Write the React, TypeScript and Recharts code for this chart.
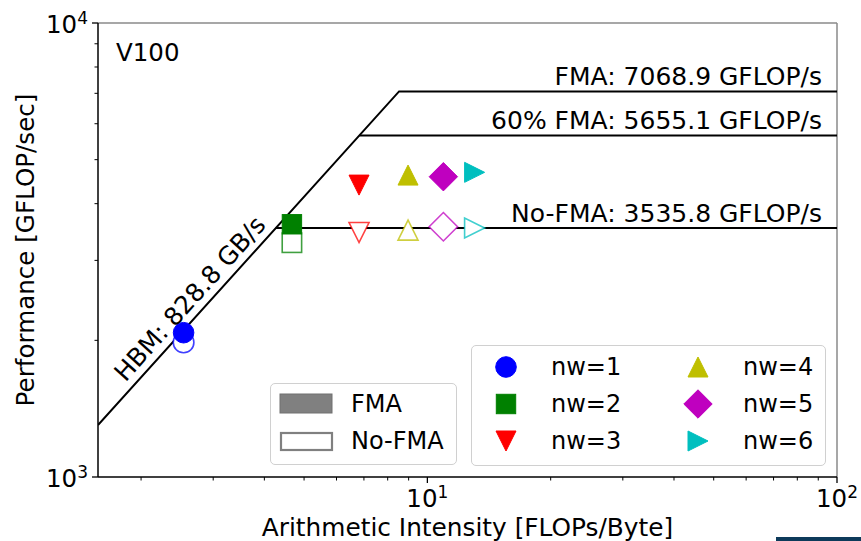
import React from 'react';
import {
  ScatterChart,
  Scatter,
  XAxis,
  YAxis,
  ReferenceLine,
  ReferenceDot,
  Label,
} from 'recharts';

const FONT = '"DejaVu Sans", sans-serif';

// axis ranges
const X_MIN = 1.57;
const X_MAX = 100;
const Y_MIN = 1000;
const Y_MAX = 10000;

// machine ceilings (V100)
const HBM_BW = 828.8;
const PEAK_FMA = 7068.9;
const PEAK_60 = 5655.1;
const PEAK_NOFMA = 3535.8;

const X_TICKS = [2, 3, 4, 5, 6, 7, 8, 9, 10, 20, 30, 40, 50, 60, 70, 80, 90, 100];
const Y_TICKS = [1000, 2000, 3000, 4000, 5000, 6000, 7000, 8000, 9000, 10000];
const MAJOR_EXP: Record<number, string> = { 10: '1', 100: '2', 1000: '3', 10000: '4' };

// measured kernels, one per warp count
const nwLabels = ['nw=1', 'nw=2', 'nw=3', 'nw=4', 'nw=5', 'nw=6'];
const nwAI = [2.54, 4.67, 6.81, 8.97, 10.94, 13.04];
const fmaPerf = [2079, 3603, 4395, 4624, 4586, 4689];
const noFmaPerf = [1979, 3281, 3456, 3498, 3558, 3535];
const nwColors = ['#0000ff', '#008000', '#ff0000', '#bfbf00', '#bf00bf', '#00bfbf'];
const nwShapes = ['circle', 'square', 'down', 'up', 'diamond', 'right'];

type Pt = { x: number; y: number };

const roofFMA: Pt[] = [
  { x: X_MIN, y: X_MIN * HBM_BW },
  { x: PEAK_FMA / HBM_BW, y: PEAK_FMA },
  { x: X_MAX, y: PEAK_FMA },
];
const roof60: Pt[] = [
  { x: PEAK_60 / HBM_BW, y: PEAK_60 },
  { x: X_MAX, y: PEAK_60 },
];
const roofNoFMA: Pt[] = [
  { x: PEAK_NOFMA / HBM_BW, y: PEAK_NOFMA },
  { x: X_MAX, y: PEAK_NOFMA },
];

function marker(kind: string, cx: number, cy: number, color: string, filled: boolean) {
  const style = {
    fill: filled ? color : '#fff',
    stroke: color,
    strokeWidth: filled ? 1 : 1.6,
    strokeOpacity: filled ? 1 : 0.75,
  };
  const s = 10;
  switch (kind) {
    case 'circle':
      return <circle cx={cx} cy={cy} r={10.3} {...style} />;
    case 'square':
      return <rect x={cx - 9.7} y={cy - 9.7} width={19.4} height={19.4} {...style} />;
    case 'up':
      return <polygon points={`${cx},${cy - s} ${cx - s},${cy + s} ${cx + s},${cy + s}`} {...style} />;
    case 'down':
      return <polygon points={`${cx},${cy + s} ${cx - s},${cy - s} ${cx + s},${cy - s}`} {...style} />;
    case 'right':
      return <polygon points={`${cx + s},${cy} ${cx - s},${cy - s} ${cx - s},${cy + s}`} {...style} />;
    case 'diamond':
      return (
        <polygon
          points={`${cx},${cy - 14.2} ${cx + 14.2},${cy} ${cx},${cy + 14.2} ${cx - 14.2},${cy}`}
          {...style}
        />
      );
    default:
      return <g />;
  }
}

const Empty = () => <g />;

const XTick = (props: any) => {
  const { x, y, payload } = props;
  const exp = MAJOR_EXP[payload.value];
  return (
    <g>
      <line x1={x} x2={x} y1={y} y2={y + (exp ? 6 : 3.5)} stroke="#000" strokeWidth={exp ? 1.3 : 1} />
      {exp && (
        <text x={x} y={y + 30} textAnchor="middle" fontSize={24.5} fontFamily={FONT} fill="#000">
          10<tspan dy={-9} fontSize={17}>{exp}</tspan>
        </text>
      )}
    </g>
  );
};

const YTick = (props: any) => {
  const { x, y, payload } = props;
  const exp = MAJOR_EXP[payload.value];
  return (
    <g>
      <line x1={x} x2={x - (exp ? 6 : 3.5)} y1={y} y2={y} stroke="#000" strokeWidth={exp ? 1.3 : 1} />
      {exp && (
        <text x={x - 10} y={y + 10} textAnchor="end" fontSize={24.5} fontFamily={FONT} fill="#000">
          10<tspan dy={-9} fontSize={17}>{exp}</tspan>
        </text>
      )}
    </g>
  );
};

const roofLabel = (text: string) => (props: any) => {
  const { x, y } = props.viewBox;
  return (
    <text x={x - 15} y={y - 6} textAnchor="end" fontSize={25} fontFamily={FONT} fill="#000">
      {text}
    </text>
  );
};

const hbmLabel = (props: any) => {
  const { x, y } = props.viewBox;
  return (
    <text
      transform={`translate(${x},${y}) rotate(-48)`}
      x={0}
      y={-8}
      textAnchor="middle"
      fontSize={25}
      fontFamily={FONT}
      fill="#000"
    >
      {`HBM: ${HBM_BW} GB/s`}
    </text>
  );
};

const deviceLabel = (props: any) => {
  const { x, y } = props.viewBox;
  return (
    <text x={x + 18} y={y + 38} fontSize={24.5} fontFamily={FONT} fill="#000">
      V100
    </text>
  );
};

const legendBox: React.CSSProperties = {
  position: 'absolute',
  background: 'rgba(255,255,255,0.8)',
  border: '1px solid #d0d0d0',
  borderRadius: 5,
  boxSizing: 'border-box',
};

function FmaLegend() {
  return (
    <div style={{ ...legendBox, left: 270, top: 383, width: 187, height: 82 }}>
      <svg width={187} height={82} style={{ position: 'absolute', left: -1, top: -1 }}>
        <rect x={10} y={11} width={52} height={19} fill="#808080" stroke="#707070" strokeWidth={1} />
        <text x={81} y={21} dominantBaseline="central" fontSize={24} fontFamily={FONT} fill="#000">
          FMA
        </text>
        <rect x={11} y={50} width={51} height={17} fill="#fff" stroke="#808080" strokeWidth={2.2} />
        <text x={81} y={58} dominantBaseline="central" fontSize={24} fontFamily={FONT} fill="#000">
          No-FMA
        </text>
      </svg>
    </div>
  );
}

function NwLegend() {
  return (
    <div style={{ ...legendBox, left: 471, top: 345, width: 355, height: 121 }}>
      <svg width={355} height={121} style={{ position: 'absolute', left: -1, top: -1 }}>
        {nwLabels.map((label, i) => {
          const col = Math.floor(i / 3);
          const row = i % 3;
          const mx = col === 0 ? 35 : 227;
          const tx = col === 0 ? 80 : 272;
          const cy = 22 + row * 37;
          return (
            <g key={label}>
              {marker(nwShapes[i], mx, cy, nwColors[i], true)}
              <text x={tx} y={cy} dominantBaseline="central" fontSize={24} fontFamily={FONT} fill="#000">
                {label}
              </text>
            </g>
          );
        })}
      </svg>
    </div>
  );
}

export default function App() {
  return (
    <div style={{ position: 'fixed', left: 0, top: 0, width: 861, height: 541, background: '#fff' }}>
      <ScatterChart width={861} height={541} margin={{ top: 23, right: 24, bottom: 0, left: 0 }}>
        <XAxis
          dataKey="x"
          type="number"
          scale="log"
          domain={[X_MIN, X_MAX]}
          allowDataOverflow
          ticks={X_TICKS}
          interval={0}
          height={64}
          tickSize={0}
          tickMargin={0}
          tickLine={false}
          tick={<XTick />}
          axisLine={{ stroke: '#000', strokeWidth: 1.5 }}
        >
          <Label
            content={(p: any) => (
              <text
                x={p.viewBox.x + p.viewBox.width / 2}
                y={p.viewBox.y + 59}
                textAnchor="middle"
                fontSize={24.8}
                fontFamily={FONT}
                fill="#000"
              >
                Arithmetic Intensity [FLOPs/Byte]
              </text>
            )}
          />
        </XAxis>
        <YAxis
          dataKey="y"
          type="number"
          scale="log"
          domain={[Y_MIN, Y_MAX]}
          allowDataOverflow
          ticks={Y_TICKS}
          interval={0}
          width={98}
          tickSize={0}
          tickMargin={0}
          tickLine={false}
          tick={<YTick />}
          axisLine={{ stroke: '#000', strokeWidth: 1.5 }}
        >
          <Label
            content={(p: any) => {
              const cx = p.viewBox.x + 25;
              const cy = p.viewBox.y + p.viewBox.height / 2;
              return (
                <text
                  transform={`translate(${cx},${cy}) rotate(-90)`}
                  textAnchor="middle"
                  dominantBaseline="central"
                  fontSize={24.6}
                  fontFamily={FONT}
                  fill="#000"
                >
                  Performance [GFLOP/sec]
                </text>
              );
            }}
          />
        </YAxis>

        <ReferenceLine y={Y_MAX} stroke="#8a8a8a" strokeWidth={1.5} />
        <ReferenceLine x={X_MAX} stroke="#8a8a8a" strokeWidth={1.5} />

        <Scatter data={roofFMA} line={{ stroke: '#000', strokeWidth: 2, fill: 'none' }} lineType="joint" shape={Empty} isAnimationActive={false} />
        <Scatter data={roof60} line={{ stroke: '#000', strokeWidth: 2, fill: 'none' }} lineType="joint" shape={Empty} isAnimationActive={false} />
        <Scatter data={roofNoFMA} line={{ stroke: '#000', strokeWidth: 2, fill: 'none' }} lineType="joint" shape={Empty} isAnimationActive={false} />

        {nwLabels.map((label, i) => (
          <Scatter
            key={`nofma-${label}`}
            data={[{ x: nwAI[i], y: noFmaPerf[i] }]}
            shape={(p: any) => marker(nwShapes[i], p.cx, p.cy, nwColors[i], false)}
            isAnimationActive={false}
          />
        ))}
        {nwLabels.map((label, i) => (
          <Scatter
            key={`fma-${label}`}
            data={[{ x: nwAI[i], y: fmaPerf[i] }]}
            shape={(p: any) => marker(nwShapes[i], p.cx, p.cy, nwColors[i], true)}
            isAnimationActive={false}
          />
        ))}

        <ReferenceDot x={X_MAX} y={PEAK_FMA} r={0} ifOverflow="visible" label={roofLabel(`FMA: ${PEAK_FMA} GFLOP/s`)} />
        <ReferenceDot x={X_MAX} y={PEAK_60} r={0} ifOverflow="visible" label={roofLabel(`60% FMA: ${PEAK_60} GFLOP/s`)} />
        <ReferenceDot x={X_MAX} y={PEAK_NOFMA} r={0} ifOverflow="visible" label={roofLabel(`No-FMA: ${PEAK_NOFMA} GFLOP/s`)} />
        <ReferenceDot x={2.82} y={2.82 * HBM_BW} r={0} ifOverflow="visible" label={hbmLabel} />
        <ReferenceDot x={X_MIN} y={Y_MAX} r={0} ifOverflow="visible" label={deviceLabel} />
      </ScatterChart>
      <FmaLegend />
      <NwLegend />
      <div style={{ position: 'absolute', left: 776, top: 537, width: 85, height: 4, background: '#0d3a5a' }} />
    </div>
  );
}
